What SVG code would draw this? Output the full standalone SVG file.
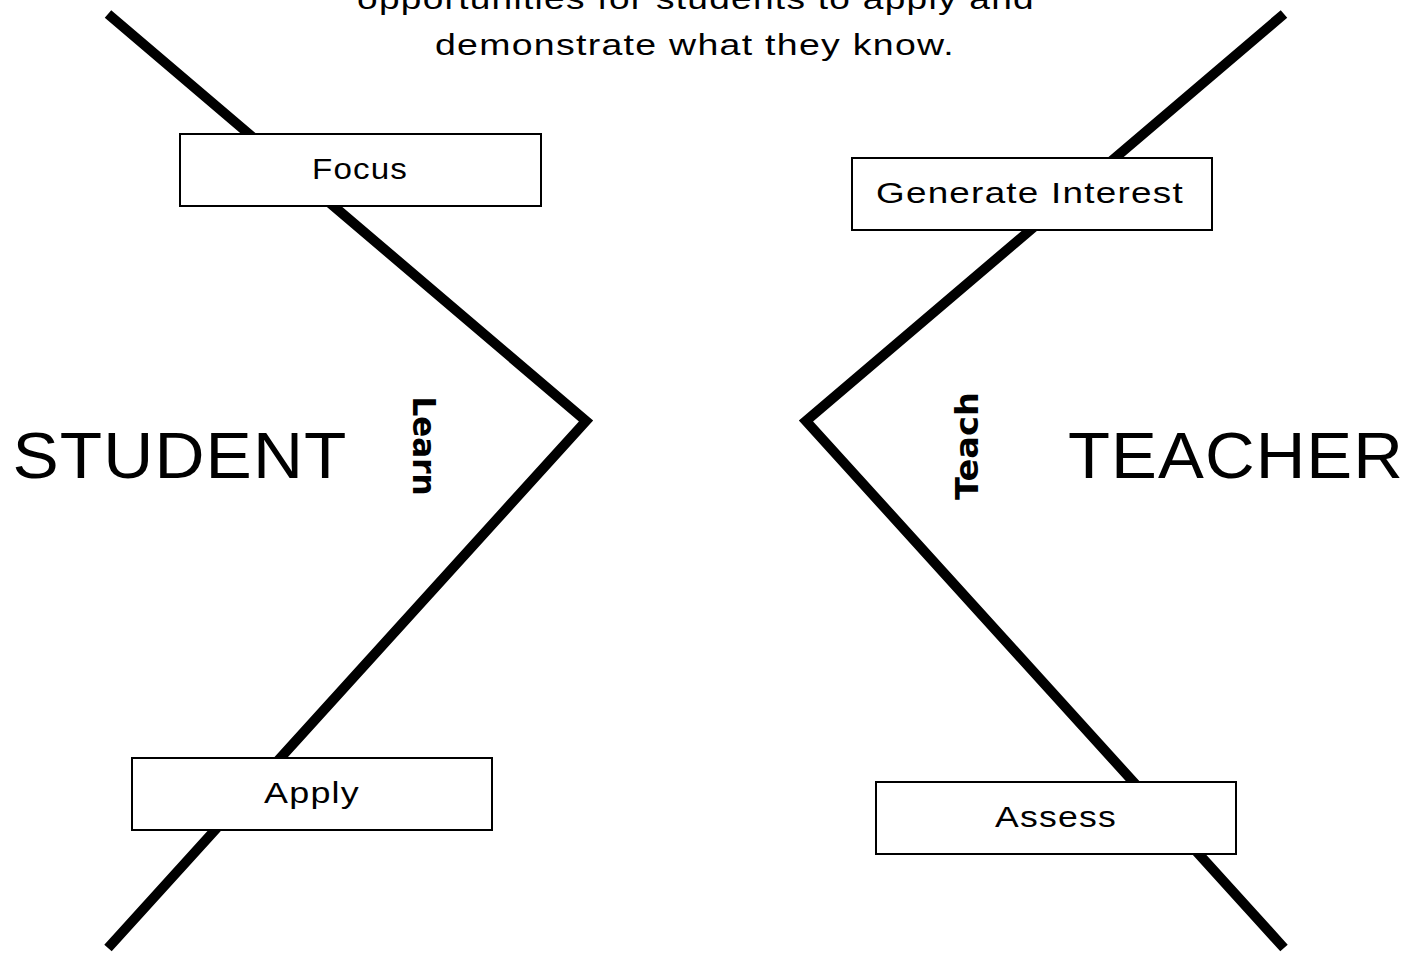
<svg xmlns="http://www.w3.org/2000/svg" width="1424" height="954" viewBox="0 0 1424 954">
<style>
.t{font-family:"Liberation Sans",Arial,sans-serif;fill:#000;text-anchor:middle;letter-spacing:1px}
.s{font-size:29px}
.big{font-size:64px}
.v{font-family:"DejaVu Sans",sans-serif;font-weight:bold;font-size:32px;text-anchor:middle}
.box{fill:#fff;stroke:#000;stroke-width:2}
.ln{fill:none;stroke:#000;stroke-width:10;stroke-linejoin:miter}
</style>
<rect width="1424" height="954" fill="#fff"/>
<g id="intro">
<text class="t s" x="696" y="9" textLength="678" lengthAdjust="spacingAndGlyphs">opportunities for students to apply and</text>
<text class="t s" x="695" y="55" textLength="520" lengthAdjust="spacingAndGlyphs">demonstrate what they know.</text>
</g>
<g id="connectors">
<polyline class="ln" points="108,14 586,421 108,948"/>
<polyline class="ln" points="1284,14 806,421 1284,948"/>
</g>
<g id="focus"><rect class="box" x="180" y="134" width="361" height="72"/><text class="t s" x="360" y="179" textLength="96" lengthAdjust="spacingAndGlyphs">Focus</text></g>
<g id="generate"><rect class="box" x="852" y="158" width="360" height="72"/><text class="t s" x="1030" y="203" textLength="308" lengthAdjust="spacingAndGlyphs">Generate Interest</text></g>
<g id="apply"><rect class="box" x="132" y="758" width="360" height="72"/><text class="t s" x="312" y="803" textLength="96" lengthAdjust="spacingAndGlyphs">Apply</text></g>
<g id="assess"><rect class="box" x="876" y="782" width="360" height="72"/><text class="t s" x="1056" y="827" textLength="122" lengthAdjust="spacingAndGlyphs">Assess</text></g>
<g id="student"><text class="t big" x="180" y="478" textLength="335" lengthAdjust="spacingAndGlyphs">STUDENT</text></g>
<g id="teacher"><text class="t big" x="1236" y="478" textLength="336" lengthAdjust="spacingAndGlyphs">TEACHER</text></g>
<g id="learn"><text class="v" transform="translate(413,446) rotate(90)" textLength="99" lengthAdjust="spacingAndGlyphs">Learn</text></g>
<g id="teach"><text class="v" transform="translate(978,446) rotate(-90)" textLength="108" lengthAdjust="spacingAndGlyphs">Teach</text></g>
</svg>
